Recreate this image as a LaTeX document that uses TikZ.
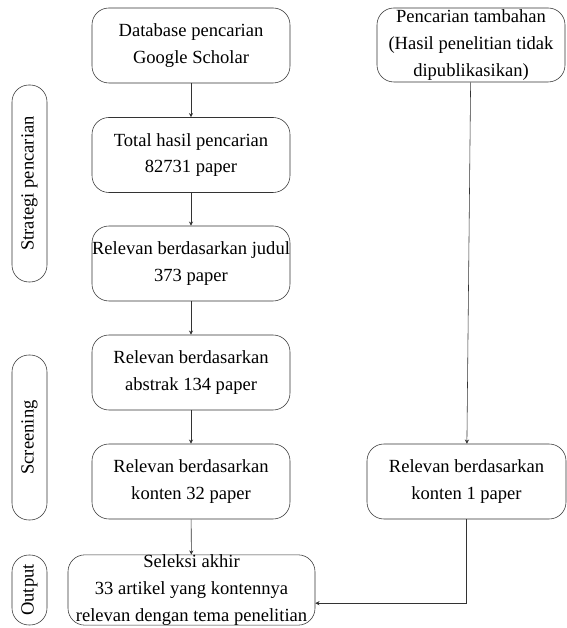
\documentclass[tikz,border=0pt]{standalone}
\usepackage{fontspec}
\setmainfont{Liberation Serif}
\usetikzlibrary{arrows.meta}
\usepackage{xcolor}

\begin{document}
\begin{tikzpicture}[
  % Node Styles
  fnode/.style={rectangle, rounded corners=12pt, draw=black!80, thin, text=black, minimum height=1.875cm, minimum width=4.95cm, align=center, inner sep=0pt},
  phase/.style={rectangle, rounded corners=12pt, draw=black!80, thin, text=black, minimum height=0.875cm, rotate=90, align=center, inner sep=0pt},
  % Arrow Styles
  solidarrow/.style={-{Stealth[length=3pt, width=3pt]}, thin, black!80}
]
\tikzset{font=\fontsize{13.2}{19}\selectfont}
\useasboundingbox (0,0) rectangle (14.175,15.7);

% Diagram for: alur pencarian literatur

\node[fnode] (S_0) at (4.775,14.5625) {Database pencarian\\Google Scholar};
\node[fnode] (S_1) at (4.775,11.825) {Total hasil pencarian\\82731 paper};
\node[fnode] (S_2) at (4.775,9.1125) {Relevan berdasarkan judul\\373 paper};
\node[fnode] (S_3) at (4.775,6.3875) {Relevan berdasarkan\\abstrak 134 paper};
\node[fnode] (S_4) at (4.775,3.6625) {Relevan berdasarkan\\konten 32 paper};
\node[fnode, minimum width=6.175cm, minimum height=1.75cm] (S_5) at (4.7875,0.95) {Seleksi akhir\\33 artikel yang kontennya\\relevan dengan tema penelitian};

\node[fnode, minimum width=4.7cm, minimum height=1.85cm] (T_0) at (11.775,14.575) {Pencarian tambahan\\(Hasil penelitian tidak\\dipublikasikan)};
\node[fnode, minimum width=4.975cm] (T_1) at (11.6625,3.6625) {Relevan berdasarkan\\konten 1 paper};

\node[phase, minimum width=4.925cm] (L_0) at (0.7375,11.1125) {Strategi pencarian};
\node[phase, minimum width=4.125cm] (L_1) at (0.7375,4.7625) {Screening};
\node[phase, minimum width=1.75cm] (L_2) at (0.7375,0.95) {Output};

\coordinate (S_5in) at ([yshift=-0.33cm]S_5.east);

\draw[solidarrow] (S_0) -- (S_1);
\draw[solidarrow] (S_1) -- (S_2);
\draw[solidarrow] (S_2) -- (S_3);
\draw[solidarrow] (S_3) -- (S_4);
\draw[solidarrow] (S_4) -- (S_5);
\draw[solidarrow] (T_0) -- (T_1);
\draw[solidarrow] (T_1) |- (S_5in);

\end{tikzpicture}
\end{document}
